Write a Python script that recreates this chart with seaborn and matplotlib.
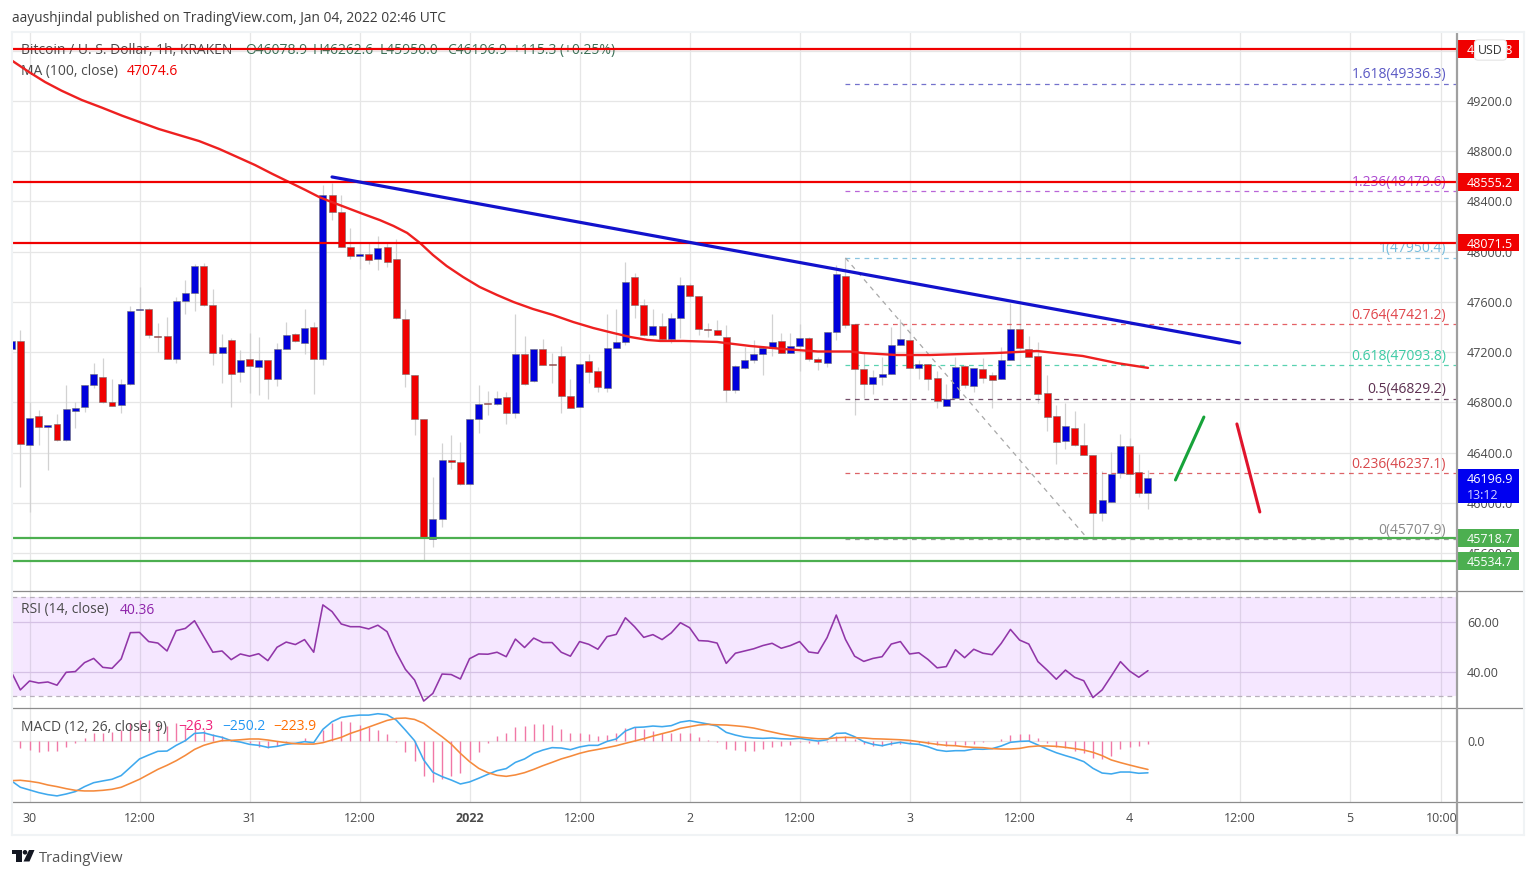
import numpy as np
import pandas as pd
import seaborn as sns
import matplotlib.pyplot as plt
from matplotlib.lines import Line2D
from matplotlib.patches import Rectangle, Circle, Polygon
from matplotlib.transforms import Affine2D

W, H = 1536, 877

# hourly candles, hour 0 = Dec 30 00:00
hours = list(range(-2, 123))
opens = [47227, 47291, 46463, 46694, 46601, 46625, 46500, 46734, 46765, 46938, 47002, 46803, 46776, 46946, 47535, 47541, 47331,
         47331, 47145, 47610, 47673, 47883, 47573, 47196, 47296, 47044, 47142, 47084, 47134, 46988, 47227, 47342, 47270, 47400,
         47145, 48451, 48313, 48037, 47968, 47981, 47942, 48037, 47939, 47466, 47015, 46670, 45709, 45868, 46338, 46325, 46149,
         46665, 46792, 46787, 46840, 46712, 47185, 46970, 47222, 47105, 47166, 46853, 46763, 47129, 47050, 46914, 47233, 47283,
         47796, 47573, 47334, 47411, 47302, 47474, 47737, 47644, 47387, 47379, 47323, 46896, 47071, 47137, 47185, 47233, 47286,
         47196, 47249, 47310, 47148, 47116, 47360, 47806, 47421, 47065, 46946, 47002, 47026, 47259, 47299, 47076, 47103, 46994,
         46771, 46832, 47089, 46930, 47065, 47020, 46986, 47140, 47387, 47227, 47166, 46877, 46688, 46489, 46593, 46463, 46381,
         45916, 46006, 46240, 46450, 46242, 46078.9]
closes = [47291, 46468, 46675, 46601, 46620, 46500, 46750, 46757, 46938, 47026, 46800, 46773, 46946, 47530, 47543, 47334, 47323,
          47145, 47604, 47673, 47883, 47573, 47196, 47241, 47023, 47137, 47089, 47134, 46988, 47227, 47339, 47288, 47392, 47145,
          48451, 48313, 48040, 47968, 47981, 47934, 48032, 47918, 47472, 47026, 46670, 45717, 45868, 46338, 46325, 46149, 46665,
          46789, 46787, 46837, 46712, 47185, 46946, 47222, 47100, 47095, 46850, 46755, 47103, 47044, 46925, 47235, 47280, 47756,
          47573, 47334, 47411, 47302, 47474, 47737, 47647, 47387, 47376, 47339, 46896, 47092, 47140, 47185, 47235, 47278, 47196,
          47249, 47310, 47148, 47119, 47363, 47819, 47416, 47065, 46946, 47004, 47028, 47259, 47304, 47076, 47103, 46983, 46808,
          46824, 47079, 46938, 47071, 46996, 46978, 47140, 47387, 47230, 47164, 46864, 46683, 46487, 46611, 46463, 46381, 45921,
          46022, 46232, 46450, 46229, 46078, 46196.9]
highs = [47291, 47376, 46805, 46739, 46620, 46707, 46938, 46805, 46938, 47111, 47150, 46983, 46983, 47567, 47721, 47549, 47429,
         47482, 47642, 47774, 47899, 47907, 47700, 47344, 47310, 47217, 47355, 47323, 47137, 47270, 47442, 47350, 47541, 47442,
         48531, 48544, 48451, 48186, 48080, 48080, 48125, 48080, 48098, 47541, 47015, 46670, 46208, 46479, 46540, 46487, 46665,
         46938, 46893, 46893, 46885, 47501, 47328, 47222, 47302, 47196, 47249, 46983, 47111, 47185, 47084, 47501, 47541, 47920,
         47833, 47620, 47541, 47514, 47514, 47801, 47748, 47644, 47434, 47456, 47416, 47097, 47238, 47296, 47243, 47501, 47355,
         47355, 47424, 47323, 47164, 47363, 47894, 47950, 47421, 47204, 47058, 47164, 47403, 47461, 47389, 47137, 47103, 47050,
         46946, 47164, 47097, 47071, 47150, 47044, 47243, 47588, 47575, 47328, 47283, 47018, 46779, 46797, 46734, 46633, 46381,
         46253, 46407, 46545, 46519, 46388, 46262.6]
lows = [47227, 46123, 45929, 46460, 46261, 46495, 46495, 46593, 46726, 46911, 46792, 46773, 46718, 46938, 47535, 47310, 47204,
        47145, 47111, 47504, 47530, 47567, 47097, 46951, 46760, 46965, 46872, 46858, 46824, 46930, 47222, 47283, 47185, 46866,
        47097, 48252, 48040, 47939, 47859, 47902, 47854, 47881, 47461, 46919, 46540, 45544, 45650, 45804, 46266, 46141, 46141,
        46553, 46699, 46779, 46627, 46673, 46938, 46965, 47097, 46957, 46718, 46752, 46760, 46957, 46885, 46885, 47230, 47257,
        47469, 47328, 47328, 47291, 47270, 47310, 47642, 47336, 47323, 47336, 46800, 46872, 47065, 47116, 47018, 47169, 47190,
        47190, 47052, 47132, 47058, 47084, 47296, 47389, 46699, 46832, 46866, 46938, 47023, 47257, 47071, 46986, 46898, 46752,
        46771, 46824, 46911, 46885, 46957, 46757, 46986, 47140, 47225, 47159, 46792, 46574, 46306, 46428, 46452, 46381, 45730,
        45855, 46006, 46195, 46229, 46049, 45950]

# MA(100)
ma_hours = [-1.9, -0.1, 1.7, 3.5, 5.7, 7.9, 10.1, 12.1, 14.1, 16.3, 18.5, 20.7, 22.9, 24.6, 26.5, 28.3, 30.1, 31.6, 32.8, 34.6, 36.4,
            38.2, 39.7, 41.2, 42.6, 44, 45.5, 47.3, 49.1, 51, 52.8, 54.9, 57.1, 59.3, 61.5, 63.7, 65.5, 67.4, 68.8, 71.3, 75, 78.6,
            82.2, 86, 89.5, 90.9, 94.6, 98.2, 101.8, 105.5, 109.9, 114.9, 118.6, 122]
ma_values = [49521, 49433, 49351, 49282, 49208, 49147, 49083, 49030, 48977, 48929, 48881, 48818, 48746, 48690, 48619, 48555, 48491,
             48435, 48400, 48350, 48300, 48252, 48205, 48149, 48069, 47974, 47886, 47798, 47719, 47655, 47599, 47544, 47496, 47440,
             47392, 47352, 47321, 47297, 47289, 47289, 47281, 47249, 47225, 47205, 47205, 47193, 47177, 47177, 47185, 47193, 47209,
             47169, 47113, 47074.6]

rsi = [40.0, 32.6, 36.2, 35.4, 35.8, 34.5, 39.7, 40.0, 43.6, 45.3, 41.7, 41.3, 45.1, 55.7, 55.8, 52.1, 51.5, 48.3, 56.5, 57.4, 60.5,
       54.1, 47.8, 48.3, 44.8, 47.1, 46.2, 47.2, 44.4, 49.8, 51.9, 50.9, 52.9, 47.8, 66.9, 64.2, 59.2, 58.1, 58.1, 57.2, 58.7, 56.1,
       47.8, 40.9, 36.6, 28.1, 31.2, 39.0, 38.8, 37.0, 45.2, 47.1, 47.0, 47.8, 46.0, 53.1, 49.7, 53.5, 51.7, 51.7, 47.8, 46.2, 52.1,
       51.0, 49.0, 54.1, 55.0, 61.7, 58.1, 53.8, 54.9, 52.9, 55.6, 59.7, 57.7, 52.5, 52.3, 51.5, 43.3, 47.4, 48.3, 49.2, 50.5, 51.4,
       49.4, 50.5, 52.1, 47.9, 47.4, 53.7, 62.8, 53.0, 46.2, 44.1, 45.3, 46.0, 51.1, 52.1, 47.1, 47.6, 44.9, 41.5, 42.0, 48.8, 45.6,
       49.0, 47.4, 46.8, 51.4, 57.0, 52.7, 51.1, 44.0, 40.6, 36.9, 40.6, 37.7, 36.3, 29.5, 32.6, 38.2, 44.0, 40.2, 37.7, 40.36]

macd = [-312, -364, -385, -406, -422, -432, -417, -398, -359, -328, -314, -301, -272, -207, -141, -110, -81, -79, -34, 3, 60, 65, 45,
        29, 3, -8, -26, -34, -50, -42, -26, -18, -5, -13, 92, 152, 186, 197, 204, 204, 215, 207, 165, 86, 3, -149, -246, -280, -307,
        -338, -322, -293, -262, -233, -217, -168, -141, -97, -71, -52, -55, -68, -47, -34, -34, -3, 16, 79, 107, 110, 118, 113, 121,
        149, 160, 147, 134, 118, 68, 47, 31, 24, 21, 24, 18, 16, 21, 10, 0, 10, 60, 63, 34, -5, -26, -37, -21, -10, -21, -26, -45,
        -71, -81, -76, -76, -63, -65, -60, -39, -10, -3, 0, -31, -63, -92, -115, -136, -162, -215, -252, -259, -244, -244, -254, -250.2]
signal = [-312, -309, -317, -328, -346, -359, -375, -388, -393, -393, -388, -380, -364, -333, -301, -262, -223, -191, -155, -113, -66,
          -34, -13, 3, 5, 10, 16, 16, 8, -3, -13, -21, -24, -24, -13, 8, 29, 60, 84, 110, 136, 162, 178, 181, 170, 139, 86, 34, -24,
          -97, -162, -215, -249, -270, -278, -267, -249, -223, -194, -168, -141, -120, -97, -79, -66, -52, -37, -18, 0, 18, 39, 58, 76,
          100, 113, 126, 131, 128, 126, 120, 113, 102, 86, 71, 55, 42, 31, 24, 18, 18, 26, 29, 26, 24, 18, 16, 13, 10, 5, -5, -16, -26,
          -34, -37, -45, -50, -52, -60, -63, -63, -58, -45, -39, -39, -42, -50, -60, -71, -89, -115, -149, -170, -189, -207, -223.9]
hist = [-52, -70, -84, -76, -76, -45, -18, 24, 65, 65, 73, 86, 139, 165, 165, 144, 118, 139, 123, 134, 86, 58, 39, 8, 3, -13, -45, -58,
        -39, -8, 3, 21, 3, 86, 139, 160, 149, 128, 113, 86, 55, -10, -89, -157, -272, -325, -301, -272, -249, -149, -89, -18, 42, 65,
        110, 118, 134, 134, 123, 92, 60, 60, 52, 39, 47, 60, 102, 113, 97, 81, 65, 65, 65, 60, 29, 8, -8, -60, -71, -81, -79, -65, -50,
        -39, -29, -10, -16, -21, -5, 42, 42, 18, -21, -39, -39, -34, -21, -13, -18, -24, -34, -39, -34, -34, -21, -8, 3, 16, 47, 52, 52,
        21, -13, -45, -58, -81, -97, -131, -139, -115, -65, -50, -42, -26.3]

resistance = [49614.8, 48555.2, 48071.5]
support = [45718.7, 45534.7]
fib_ratios = ["1.618", "1.236", "1", "0.764", "0.618", "0.5", "0.236", "0"]
fib_levels = [49336.3, 48479.6, 47950.4, 47421.2, 47093.8, 46829.2, 46237.1, 45707.9]
fib_colors = ["#5a58c4", "#ad4ad0", "#74bbdc", "#e0454b", "#3ccaa4", "#5c2f50", "#d8484c", "#8a8a8a"]
price_ticks = [49600, 49200, 48800, 48400, 48000, 47600, 47200, 46800, 46400, 46000, 45600]
trend_hours = [33, 132]
trend_prices = [48595, 47273]
up_hours = [125, 128.1]
up_prices = [46182, 46683]
down_hours = [131.7, 134.2]
down_prices = [46628, 45927]
fib_diag_hours = [89, 115.5]
fib_diag_prices = [47950.4, 45707.9]

time_ticks = [0, 12, 24, 36, 48, 60, 72, 84, 96, 108, 120, 132, 144, 154]
time_labels = ["30", "12:00", "31", "12:00", "2022", "12:00", "2", "12:00", "3", "12:00", "4", "12:00", "5", "10:00"]

sns.set_theme(style="white")
plt.rcParams["font.family"] = ["Open Sans", "DejaVu Sans"]

TXT = "#4a4a4a"
RED = "#f00000"
BLUE = "#0000dc"
GREEN = "#4caf50"
GRID = "#e6e6e6"
XMIN, XMAX = -1.909, 155.6
FS = 10.0  # legend and fib labels
FS_AXIS = 9.0

fig = plt.figure(figsize=(W / 100, H / 100), dpi=100, facecolor="white")
px = Affine2D().scale(1, -1).translate(0, H)  # picture pixels, y down


def pane(x0, y0, x1, y1):
    a = fig.add_axes([x0 / W, 1 - y1 / H, (x1 - x0) / W, (y1 - y0) / H])
    a.set_facecolor("white")
    for s in a.spines.values():
        s.set_visible(False)
    a.tick_params(length=0, labelleft=False, labelbottom=False)
    a.set_xlim(XMIN, XMAX)
    a.set_xticks(time_ticks)
    a.set_axisbelow(True)
    a.grid(True, color=GRID, lw=0.9)
    return a


# ---- price pane ----
ax = pane(12, 32, 1456, 591)
ax.set_ylim(45297.6, 49749.5)
ax.set_yticks(price_ticks)

df = pd.DataFrame({"h": hours, "o": opens, "c": closes, "hi": highs, "lo": lows})
df["up"] = df["c"] >= df["o"]
ax.vlines(df["h"], df["lo"], df["hi"], color="#d2d2d2", lw=0.9, zorder=2)
ax.bar(df["h"], (df["c"] - df["o"]).abs(), bottom=df[["o", "c"]].min(axis=1), width=0.76,
       color=df["up"].map({True: BLUE, False: RED}), edgecolor="#707070", linewidth=0.4, zorder=3)

for lvl, col in zip(fib_levels, fib_colors):
    ax.hlines(lvl, 89, XMAX, color=col, lw=0.9, linestyles=(0, (3.8, 3.8)), alpha=0.85, zorder=2.5)
ax.plot(fib_diag_hours, fib_diag_prices, color="#a8a8a8", lw=0.9, ls=(0, (3.8, 3.8)), zorder=3.5)
for r, lvl, col in zip(fib_ratios, fib_levels, fib_colors):
    ax.text(154.5, lvl + 12, f"{r}({lvl:.1f})", color=col, fontsize=FS, ha="right", va="bottom", zorder=3.5)

ax.text(21, 50.5, "Bitcoin / U. S. Dollar, 1h, KRAKEN", transform=px, color=TXT, fontsize=FS, va="center", zorder=3)
for x0, s in zip([245, 313, 380, 447, 513], ["O46078.9", "H46262.6", "L45950.0", "C46196.9", "+115.3 (+0.25%)"]):
    ax.text(x0, 50.5, s, transform=px, color="#3a6f55", fontsize=FS, va="center", zorder=3)
ax.text(21, 71.5, "MA (100, close)", transform=px, color=TXT, fontsize=FS, va="center", zorder=3)
ax.text(127, 71.5, "47074.6", transform=px, color=RED, fontsize=FS, va="center", zorder=3)

sns.lineplot(x=ma_hours, y=ma_values, ax=ax, color="#ee2020", lw=1.7, zorder=4, solid_joinstyle="round")
for lvl in resistance:
    ax.axhline(lvl, color=RED, lw=1.6, zorder=5)
for lvl in support:
    ax.axhline(lvl, color=GREEN, lw=1.6, zorder=5)
sns.lineplot(x=trend_hours, y=trend_prices, ax=ax, color="#1212cc", lw=2.3, zorder=6)
sns.lineplot(x=up_hours, y=up_prices, ax=ax, color="#17a33a", lw=2.2, zorder=6)
sns.lineplot(x=down_hours, y=down_prices, ax=ax, color="#e0142c", lw=2.2, zorder=6)
ax.set_xlabel("")
ax.set_ylabel("")

# ---- price scale ----
sc = fig.add_axes([1456 / W, 1 - 591 / H, 64 / W, (591 - 32) / H], sharey=ax)
sc.axis("off")
sc.set_xlim(0, 64)
for p in price_ticks:
    sc.text(11, p, f"{p:.1f}", color=TXT, fontsize=FS_AXIS, va="center_baseline", zorder=1)
for lvl, col in zip(resistance + support, [RED, RED, RED, GREEN, GREEN]):
    sc.add_patch(Rectangle((0, lvl - 70), 63, 140, color=col, lw=0, zorder=2))
    sc.text(11, lvl, f"{lvl:.1f}", color="white", fontsize=FS_AXIS, va="center_baseline", zorder=3)
sc.add_patch(Rectangle((0, 45998), 63, 268, color="#0000f0", lw=0, zorder=2))
sc.text(11, 46196.9, "46196.9", color="white", fontsize=FS_AXIS, va="center_baseline", zorder=3)
sc.text(11, 46072, "13:12", color="#d4d4ff", fontsize=FS_AXIS, va="center_baseline", zorder=3)
fig.text(1490.5, 50, "USD", transform=px, color="#333333", fontsize=8.8, ha="center", va="center", zorder=6,
         bbox=dict(boxstyle="round,pad=0.3", fc="white", ec="#e4e4e4", lw=0.8))

# ---- RSI pane ----
ax2 = pane(12, 591, 1456, 708)
ax2.set_ylim(25.3, 72.5)
ax2.set_yticks([40, 60])
ax2.grid(True, axis="y", color="#dcd4e2", lw=0.9)
ax2.axhspan(30, 70, color="#a52bff", alpha=0.11, lw=0, zorder=1)
ax2.axhline(70, color="#b8b0bc", lw=0.9, ls=(0, (3.8, 3.2)), zorder=1.5)
ax2.axhline(30, color="#b8b0bc", lw=0.9, ls=(0, (3.8, 3.2)), zorder=1.5)
sns.lineplot(x=hours, y=rsi, ax=ax2, color="#9136a8", lw=1.15, zorder=3)
ax2.text(21, 610, "RSI (14, close)", transform=px, color=TXT, fontsize=FS, va="center")
ax2.text(120, 610, "40.36", transform=px, color="#8e24aa", fontsize=FS, va="center")
ax2.set_ylabel("")
fig.text(1467, 622, "60.00", transform=px, color=TXT, fontsize=FS_AXIS, va="center_baseline")
fig.text(1467, 671.7, "40.00", transform=px, color=TXT, fontsize=FS_AXIS, va="center_baseline")

# ---- MACD pane ----
ax3 = pane(12, 708, 1456, 802)
ax3.set_ylim(-480, 260)
ax3.set_yticks([0])
ax3.vlines(hours[1:], 0, hist, color="#f178a6", lw=1.0, zorder=2)
ax3.text(21, 727, "MACD (12, 26, close, 9)", transform=px, color=TXT, fontsize=FS, va="center", zorder=3)
for x0, s, col in zip([178, 222, 273], ["\u221226.3", "\u2212250.2", "\u2212223.9"], ["#f0207a", "#2196f3", "#ff6d00"]):
    ax3.text(x0, 727, s, transform=px, color=col, fontsize=FS, va="center", zorder=3)
sns.lineplot(x=hours, y=macd, ax=ax3, color="#3fa9ee", lw=1.15, zorder=4)
sns.lineplot(x=hours, y=signal, ax=ax3, color="#f58a3c", lw=1.15, zorder=4)
ax3.set_ylabel("")
ax3.set_xticks(time_ticks, time_labels)
ax3.tick_params(labelbottom=True, labelsize=9, labelcolor=TXT, pad=7)
ax3.get_xticklabels()[4].set_fontweight("bold")
fig.text(1467, 741, "0.0", transform=px, color=TXT, fontsize=FS_AXIS, va="center_baseline")

# ---- frame ----
for x0, y0, x1, y1, col, lw in [(12, 591, 1524, 591, "#8c8c8c", 0.9), (12, 708, 1524, 708, "#8c8c8c", 0.9),
                                (12, 802, 1524, 802, "#8c8c8c", 0.9), (1456.5, 32, 1456.5, 835, "#a0a0a0", 1.6),
                                (12, 32, 1524, 32, "#f0f3f5", 1.5), (12, 835, 1524, 835, "#f0f3f5", 1.5),
                                (12, 32, 12, 835, "#f0f3f5", 1.5), (1524, 32, 1524, 835, "#f0f3f5", 1.5)]:
    fig.add_artist(Line2D([x0, x1], [y0, y1], transform=px, color=col, lw=lw, zorder=5))

# header and footer
fig.text(12, 19, "aayushjindal published on TradingView.com, Jan 04, 2022 02:46 UTC", transform=px,
         color="#3c3c3c", fontsize=9.9, va="center")
fig.text(39, 858, "TradingView", transform=px, color="#555555", fontsize=10.6, va="center")
logo = "#131722"
fig.add_artist(Rectangle((12, 850), 9.5, 3.6, transform=px, color=logo, lw=0))
fig.add_artist(Rectangle((16, 850), 5.5, 11.5, transform=px, color=logo, lw=0))
fig.add_artist(Circle((25, 852.3), 2.3, transform=px, color=logo, lw=0))
fig.add_artist(Polygon([(29, 850), (34.5, 850), (29.5, 861.5), (23.5, 861.5)], transform=px, color=logo, lw=0))

fig.savefig("out.png", dpi=100)
